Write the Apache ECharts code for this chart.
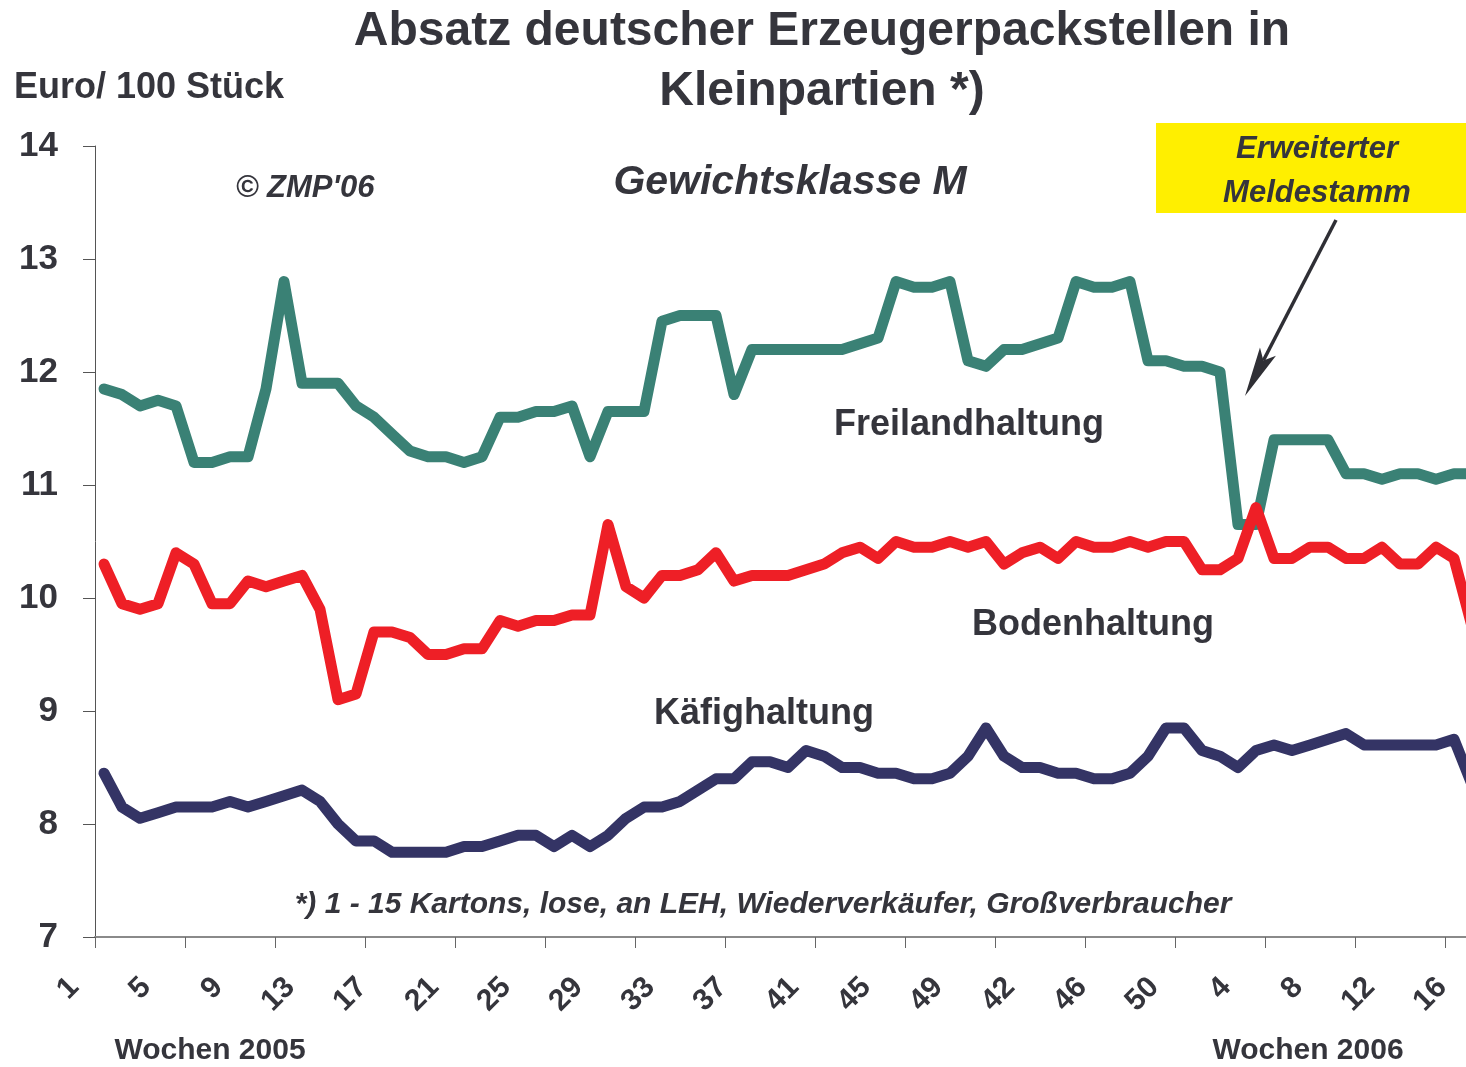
<!DOCTYPE html>
<html>
<head>
<meta charset="utf-8">
<title>Absatz deutscher Erzeugerpackstellen in Kleinpartien</title>
<script src="https://cdn.jsdelivr.net/npm/echarts@6/dist/echarts.min.js"></script>
<style>
  html, body { margin: 0; padding: 0; overflow: hidden; background: #fff; }
  #chart { width: 1500px; height: 1067px; }
</style>
</head>
<body>
<div id="chart"></div>
<script>
// week labels as printed on the axis (2005, then 2006)
const weeks = [
  '1','2','3','4','5','6','7','8','9','10','11','12','13','14','15','16','17','18','19','20',
  '21','22','23','24','25','26','27','28','29','30','31','32','33','34','35','36','37','38','39','40',
  '41','42','43','44','45','46','47','48','49',
  '39','40','41','42','43','44','45','46','47','48','49','50',
  '1','2','3','4','5','6','7','8','9','10','11','12','13','14','15','16'
];

// Euro / 100 Stück
const freiland = [
  11.85, 11.8, 11.7, 11.75, 11.7, 11.2, 11.2, 11.25, 11.25, 11.85,
  12.8, 11.9, 11.9, 11.9, 11.7, 11.6, 11.45, 11.3, 11.25, 11.25,
  11.2, 11.25, 11.6, 11.6, 11.65, 11.65, 11.7, 11.25, 11.65, 11.65,
  11.65, 12.45, 12.5, 12.5, 12.5, 11.8, 12.2, 12.2, 12.2, 12.2,
  12.2, 12.2, 12.25, 12.3, 12.8, 12.75, 12.75, 12.8, 12.1, 12.05,
  12.2, 12.2, 12.25, 12.3, 12.8, 12.75, 12.75, 12.8, 12.1, 12.1,
  12.05, 12.05, 12.0, 10.65, 10.65, 11.4, 11.4, 11.4, 11.4, 11.1,
  11.1, 11.05, 11.1, 11.1, 11.05, 11.1, 11.1
];
const boden = [
  10.3, 9.95, 9.9, 9.95, 10.4, 10.3, 9.95, 9.95, 10.15, 10.1,
  10.15, 10.2, 9.9, 9.1, 9.15, 9.7, 9.7, 9.65, 9.5, 9.5,
  9.55, 9.55, 9.8, 9.75, 9.8, 9.8, 9.85, 9.85, 10.65, 10.1,
  10.0, 10.2, 10.2, 10.25, 10.4, 10.15, 10.2, 10.2, 10.2, 10.25,
  10.3, 10.4, 10.45, 10.35, 10.5, 10.45, 10.45, 10.5, 10.45, 10.5,
  10.3, 10.4, 10.45, 10.35, 10.5, 10.45, 10.45, 10.5, 10.45, 10.5,
  10.5, 10.25, 10.25, 10.35, 10.8, 10.35, 10.35, 10.45, 10.45, 10.35,
  10.35, 10.45, 10.3, 10.3, 10.45, 10.35, 9.75
];
const kaefig = [
  8.45, 8.15, 8.05, 8.1, 8.15, 8.15, 8.15, 8.2, 8.15, 8.2,
  8.25, 8.3, 8.2, 8.0, 7.85, 7.85, 7.75, 7.75, 7.75, 7.75,
  7.8, 7.8, 7.85, 7.9, 7.9, 7.8, 7.9, 7.8, 7.9, 8.05,
  8.15, 8.15, 8.2, 8.3, 8.4, 8.4, 8.55, 8.55, 8.5, 8.65,
  8.6, 8.5, 8.5, 8.45, 8.45, 8.4, 8.4, 8.45, 8.6, 8.85,
  8.6, 8.5, 8.5, 8.45, 8.45, 8.4, 8.4, 8.45, 8.6, 8.85,
  8.85, 8.65, 8.6, 8.5, 8.65, 8.7, 8.65, 8.7, 8.75, 8.8,
  8.7, 8.7, 8.7, 8.7, 8.7, 8.75, 8.35
];

const FONT = '"Liberation Sans", Arial, sans-serif';
const TEXT = '#35353c';

function label(text, x, y, size, opts) {
  opts = opts || {};
  return {
    type: 'text',
    z: 100,
    style: {
      text: text,
      x: x,
      y: y,
      fill: opts.color || TEXT,
      fontFamily: FONT,
      fontSize: size,
      fontWeight: 'bold',
      fontStyle: opts.italic ? 'italic' : 'normal',
      align: opts.align || 'center',
      textAlign: opts.align || 'center',
      verticalAlign: 'middle',
      textVerticalAlign: 'middle'
    }
  };
}

function line(name, data, color) {
  return {
    name: name,
    type: 'line',
    data: data,
    showSymbol: false,
    symbol: 'none',
    lineStyle: { color: color, width: 11, join: 'round', cap: 'round' },
    itemStyle: { color: color }
  };
}

// arrow pointing at the week where the reporting base was extended
const arrowFrom = [1336, 220];
const arrowTo = [1245, 396];
const dx = arrowTo[0] - arrowFrom[0], dy = arrowTo[1] - arrowFrom[1];
const len = Math.sqrt(dx * dx + dy * dy);
const ux = dx / len, uy = dy / len;
const headLen = 50, headW = 9, notch = 40;
const head = [
  arrowTo,
  [arrowTo[0] - ux * headLen - uy * headW, arrowTo[1] - uy * headLen + ux * headW],
  [arrowTo[0] - ux * notch, arrowTo[1] - uy * notch],
  [arrowTo[0] - ux * headLen + uy * headW, arrowTo[1] - uy * headLen - ux * headW]
];

const chart = echarts.init(document.getElementById('chart'), null, { renderer: 'canvas' });

chart.setOption({
  animation: false,
  backgroundColor: '#ffffff',
  grid: {
    left: 95,
    right: 19,
    top: 146,
    bottom: 130,
    containLabel: false,
    outerBoundsMode: 'none'
  },
  xAxis: {
    type: 'category',
    data: weeks,
    boundaryGap: true,
    axisLine: { show: true, lineStyle: { color: '#8a8a8a', width: 2 } },
    axisTick: { show: true, interval: 4, length: 11, lineStyle: { color: '#666', width: 1 } },
    axisLabel: {
      interval: 3,
      rotate: 45,
      margin: 16,
      padding: [0, 42, 0, 0],
      color: TEXT,
      fontFamily: FONT,
      fontSize: 30,
      fontWeight: 'bold'
    },
    splitLine: { show: false }
  },
  yAxis: {
    type: 'value',
    min: 7,
    max: 14,
    interval: 1,
    axisLine: { show: true, lineStyle: { color: '#555', width: 1 } },
    axisTick: { show: true, length: 12, lineStyle: { color: '#555', width: 1 } },
    axisLabel: {
      margin: 37,
      color: TEXT,
      fontFamily: FONT,
      fontSize: 35,
      fontWeight: 'bold'
    },
    splitLine: { show: false }
  },
  series: [
    line('Freilandhaltung', freiland, '#3a8175'),
    line('Bodenhaltung', boden, '#ee1f26'),
    line('Käfighaltung', kaefig, '#343465')
  ],
  graphic: [
    label('Absatz deutscher Erzeugerpackstellen in', 822, 32, 48),
    label('Kleinpartien *)', 822, 92, 48),
    label('Euro/ 100 Stück', 14, 88, 36, { align: 'left' }),
    label("© ZMP'06", 305, 188, 31, { italic: true }),
    label('Gewichtsklasse M', 790, 183, 41, { italic: true }),
    label('Freilandhaltung', 969, 425, 36),
    label('Bodenhaltung', 1093, 625, 36),
    label('Käfighaltung', 764, 714, 36),
    label('*) 1 - 15 Kartons, lose, an LEH, Wiederverkäufer, Großverbraucher', 763, 905, 30, { italic: true }),
    label('Wochen 2005', 210, 1051, 30),
    label('Wochen 2006', 1308, 1051, 30),
    {
      type: 'rect',
      z: 90,
      shape: { x: 1156, y: 123, width: 344, height: 90 },
      style: { fill: '#ffef00' }
    },
    label('Erweiterter', 1317, 149, 31, { italic: true }),
    label('Meldestamm', 1317, 193, 31, { italic: true }),
    {
      type: 'line',
      z: 95,
      shape: { x1: arrowFrom[0], y1: arrowFrom[1], x2: arrowTo[0] - ux * notch, y2: arrowTo[1] - uy * notch },
      style: { stroke: '#2f2f35', lineWidth: 3.5 }
    },
    {
      type: 'polygon',
      z: 95,
      shape: { points: head },
      style: { fill: '#2f2f35' }
    }
  ]
});
</script>
</body>
</html>
